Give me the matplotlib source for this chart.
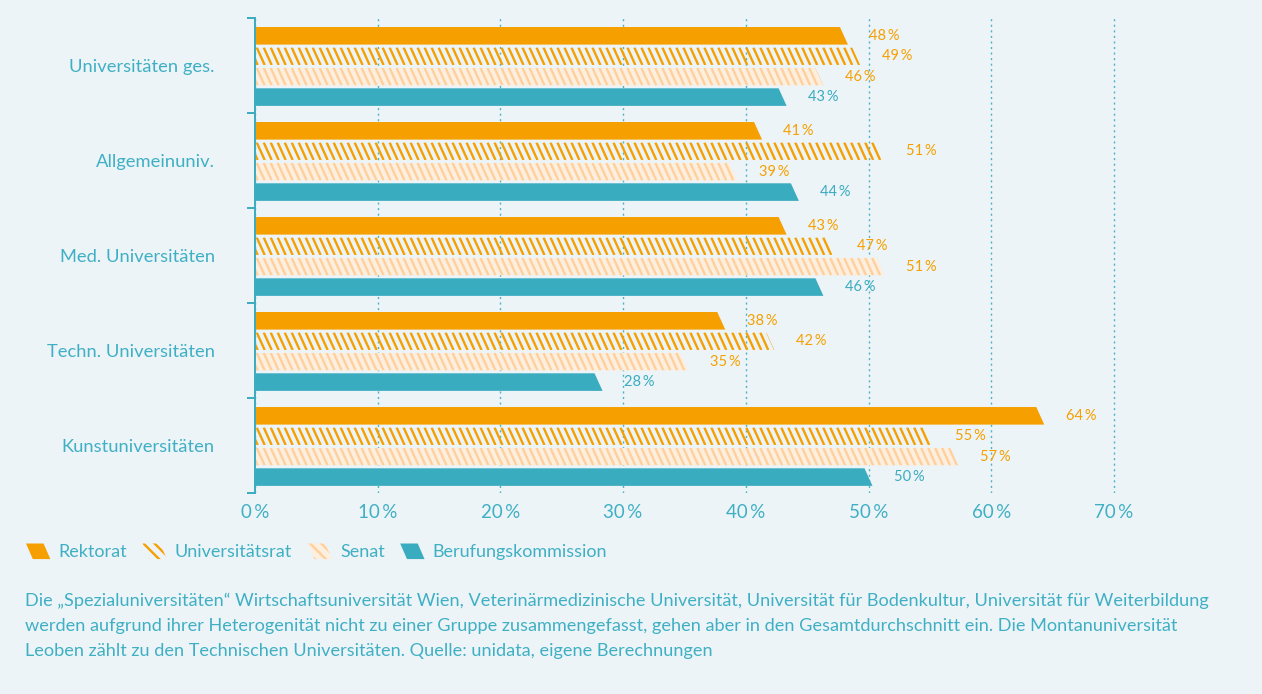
import numpy as np
import matplotlib
matplotlib.use('Agg')
import matplotlib.pyplot as plt
from matplotlib.patches import Polygon, Patch
from matplotlib.collections import LineCollection
from matplotlib.legend_handler import HandlerPatch

plt.rcParams['font.family'] = ['Lato', 'DejaVu Sans']
plt.rcParams['hatch.linewidth'] = 1.7

# data
categories = ['Universitäten ges.', 'Allgemeinuniv.', 'Med. Universitäten',
              'Techn. Universitäten', 'Kunstuniversitäten']
rektorat = [48, 41, 43, 38, 64]
universitaetsrat = [49, 51, 47, 42, 55]
senat = [46, 39, 51, 35, 57]
berufungskommission = [43, 44, 46, 28, 50]
series_names = ['Rektorat', 'Universitätsrat', 'Senat', 'Berufungskommission']
xticks = [0, 10, 20, 30, 40, 50, 60, 70]

BG = '#edf4f8'
TEAL = '#3aacbf'
TEXT = '#3fb0c4'
ORANGE = '#f5a000'
LIGHT = '#ffd09c'
LIGHT_BG = '#fcefe0'

series = [rektorat, universitaetsrat, senat, berufungskommission]
# (fill color, hatch color, label color)
styles = [(ORANGE, None, ORANGE), (None, ORANGE, ORANGE),
          (LIGHT_BG, LIGHT, ORANGE), (TEAL, None, TEAL)]

fig = plt.figure(figsize=(12.62, 6.94), dpi=100, facecolor=BG)
ax = fig.add_axes([255 / 1262, 1 - 493 / 694, (72 * 12.27) / 1262, 475 / 694])
ax.set_facecolor(BG)

bar_h = 0.185
step = 0.215
slant = 0.65
hatch_gap = 0.57

for k, (vals, (fc, hc, lc)) in enumerate(zip(series, styles)):
    for i, v in enumerate(vals):
        c = i + (k - 1.5) * step + 0.01
        top, bot = c - bar_h / 2, c + bar_h / 2
        poly = Polygon([(0, top), (v - slant / 2, top), (v + slant / 2, bot), (0, bot)],
                       closed=True, facecolor=fc if fc else 'none', edgecolor='none', zorder=3)
        ax.add_patch(poly)
        if hc:
            xs = np.arange(-1, v + 1, hatch_gap)
            segs = [[(x0, top), (x0 + slant, bot)] for x0 in xs]
            lcoll = LineCollection(segs, colors=hc, linewidths=1.7, zorder=3)
            lcoll.set_clip_path(poly)
            ax.add_collection(lcoll)
        ax.text(v + 3.3, c, f'{v}\u2009%', ha='center', va='center',
                fontsize=10.5, color=lc, zorder=4)

ax.set_xlim(0, 72)
ax.set_ylim(len(categories) - 0.5, -0.5)

for s in ['top', 'right', 'bottom']:
    ax.spines[s].set_visible(False)
ax.spines['left'].set_color(TEAL)
ax.spines['left'].set_linewidth(1.4)
ax.spines['left'].set_zorder(5)

ax.set_yticks(range(len(categories)))
ax.set_yticklabels(categories, fontsize=13.2, color=TEXT)
ax.set_yticks(np.arange(-0.5, len(categories), 1), minor=True)
ax.tick_params(axis='y', which='major', length=0, pad=29)
ax.tick_params(axis='y', which='minor', length=5.8, width=1.4, color=TEAL)

ax.set_xticks(xticks)
ax.set_xticklabels([f'{t}\u2009%' for t in xticks], fontsize=13.5, color=TEXT)
ax.tick_params(axis='x', length=0, pad=8)
ax.grid(axis='x', color=TEAL, linestyle=(0, (1.5, 2.5)), linewidth=1.0, alpha=0.9)
ax.set_axisbelow(True)


# legend with slanted icons
def slanted(legend, orig_handle, xdescent, ydescent, width, height, fontsize):
    s = width * 0.28
    x0, y0 = -xdescent, -ydescent
    return Polygon([(x0 + s, y0), (x0 + width, y0), (x0 + width - s, y0 + height),
                    (x0, y0 + height)], closed=True)


handles = [
    Patch(facecolor=ORANGE, edgecolor='none', label=series_names[0]),
    Patch(facecolor='none', edgecolor=ORANGE, linewidth=0, hatch='\\\\\\', label=series_names[1]),
    Patch(facecolor=LIGHT_BG, edgecolor=LIGHT, linewidth=0, hatch='\\\\\\', label=series_names[2]),
    Patch(facecolor=TEAL, edgecolor='none', label=series_names[3]),
]
fig.legend(handles=handles, loc='center left', bbox_to_anchor=(26 / 1262, 1 - 552 / 694),
           ncol=4, frameon=False, fontsize=13.0, labelcolor=TEXT, borderpad=0, borderaxespad=0,
           handlelength=1.35, handleheight=0.95, handletextpad=0.45, columnspacing=0.85,
           handler_map={Patch: HandlerPatch(patch_func=slanted)})

notes = [
    'Die \u201eSpezialuniversitäten\u201c Wirtschaftsuniversität Wien, Veterinärmedizinische Universität, '
    'Universität für Bodenkultur, Universität für Weiterbildung',
    'werden aufgrund ihrer Heterogenität nicht zu einer Gruppe zusammengefasst, gehen aber in den '
    'Gesamtdurchschnitt ein. Die Montanuniversität',
    'Leoben zählt zu den Technischen Universitäten. Quelle: unidata, eigene Berechnungen',
]
for j, line in enumerate(notes):
    fig.text(25 / 1262, 1 - (601 + 25 * j) / 694, line, fontsize=13.05, color=TEXT,
             ha='left', va='center')

fig.savefig('out.png', dpi=100, facecolor=BG)
